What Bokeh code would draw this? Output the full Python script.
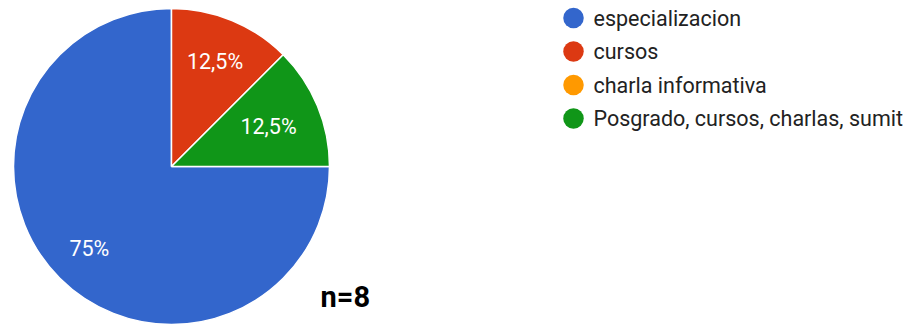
import numpy as np
from bokeh.plotting import figure
from bokeh.models import Range1d, ColumnDataSource
from bokeh.core.properties import value
from bokeh.embed import file_html
from bokeh.resources import INLINE

# ---- data ----
categories = ["especializacion", "cursos", "charla informativa", "Posgrado, cursos, charlas, sumit"]
counts = [6, 1, 0, 1]
colors = ["#3366cc", "#dc3912", "#ff9900", "#109618"]
n_label = "n=8"

W, H = 914, 324
p = figure(width=W, height=H, output_backend="svg", toolbar_location=None,
           x_range=Range1d(0, W), y_range=Range1d(0, H), min_border=0)
p.axis.visible = False
p.grid.visible = False
p.outline_line_color = None
p.background_fill_color = "white"
p.border_fill_color = "white"

# pie geometry (screen px, y measured from bottom)
cx, cy, r = 171, H - 166, 158
total = sum(counts)
fracs = np.array(counts) / total
ends_cum = np.cumsum(fracs)
starts_cum = ends_cum - fracs
# clockwise from 3 o'clock
start_ang = -2 * np.pi * ends_cum
end_ang = -2 * np.pi * starts_cum

keep = [i for i, f in enumerate(fracs) if f > 0]
src = ColumnDataSource(dict(start=start_ang[keep], end=end_ang[keep],
                            color=[colors[i] for i in keep]))
p.wedge(x=cx, y=cy, radius=r, start_angle="start", end_angle="end",
        fill_color="color", line_color="white", line_width=1.5, source=src)

# percentage labels
label_rad = [0.735, 0.72, 0.7, 0.665]
lx, ly, lt = [], [], []
for i in keep:
    mid = (start_ang[i] + end_ang[i]) / 2
    d = r * label_rad[i]
    lx.append(cx + d * np.cos(mid))
    ly.append(cy + d * np.sin(mid))
    pct = fracs[i] * 100
    lt.append(("%g" % pct).replace(".", ",") + "%")
p.text(x=lx, y=ly, text=lt, text_color="white", text_font=value("Roboto"),
       text_font_size="21.5px", text_align="center", text_baseline="middle")

# legend
leg_x, leg_y0, leg_dy = 573, H - 17.5, 33.5
leg_ys = [leg_y0 - i * leg_dy for i in range(len(categories))]
p.scatter(x=[leg_x] * len(categories), y=leg_ys, size=20.5, marker="circle",
          fill_color=colors, line_color=None)
p.text(x=[leg_x + 20] * len(categories), y=leg_ys, text=categories,
       text_color="#222222", text_font=value("Roboto"), text_font_size="21.5px",
       text_align="left", text_baseline="middle")

# n label
p.text(x=[320], y=[H - 296], text=[n_label], text_color="black",
       text_font=value("Roboto"), text_font_style="bold", text_font_size="29px",
       text_align="left", text_baseline="middle")

open("out.html", "w").write(file_html(p, INLINE))
